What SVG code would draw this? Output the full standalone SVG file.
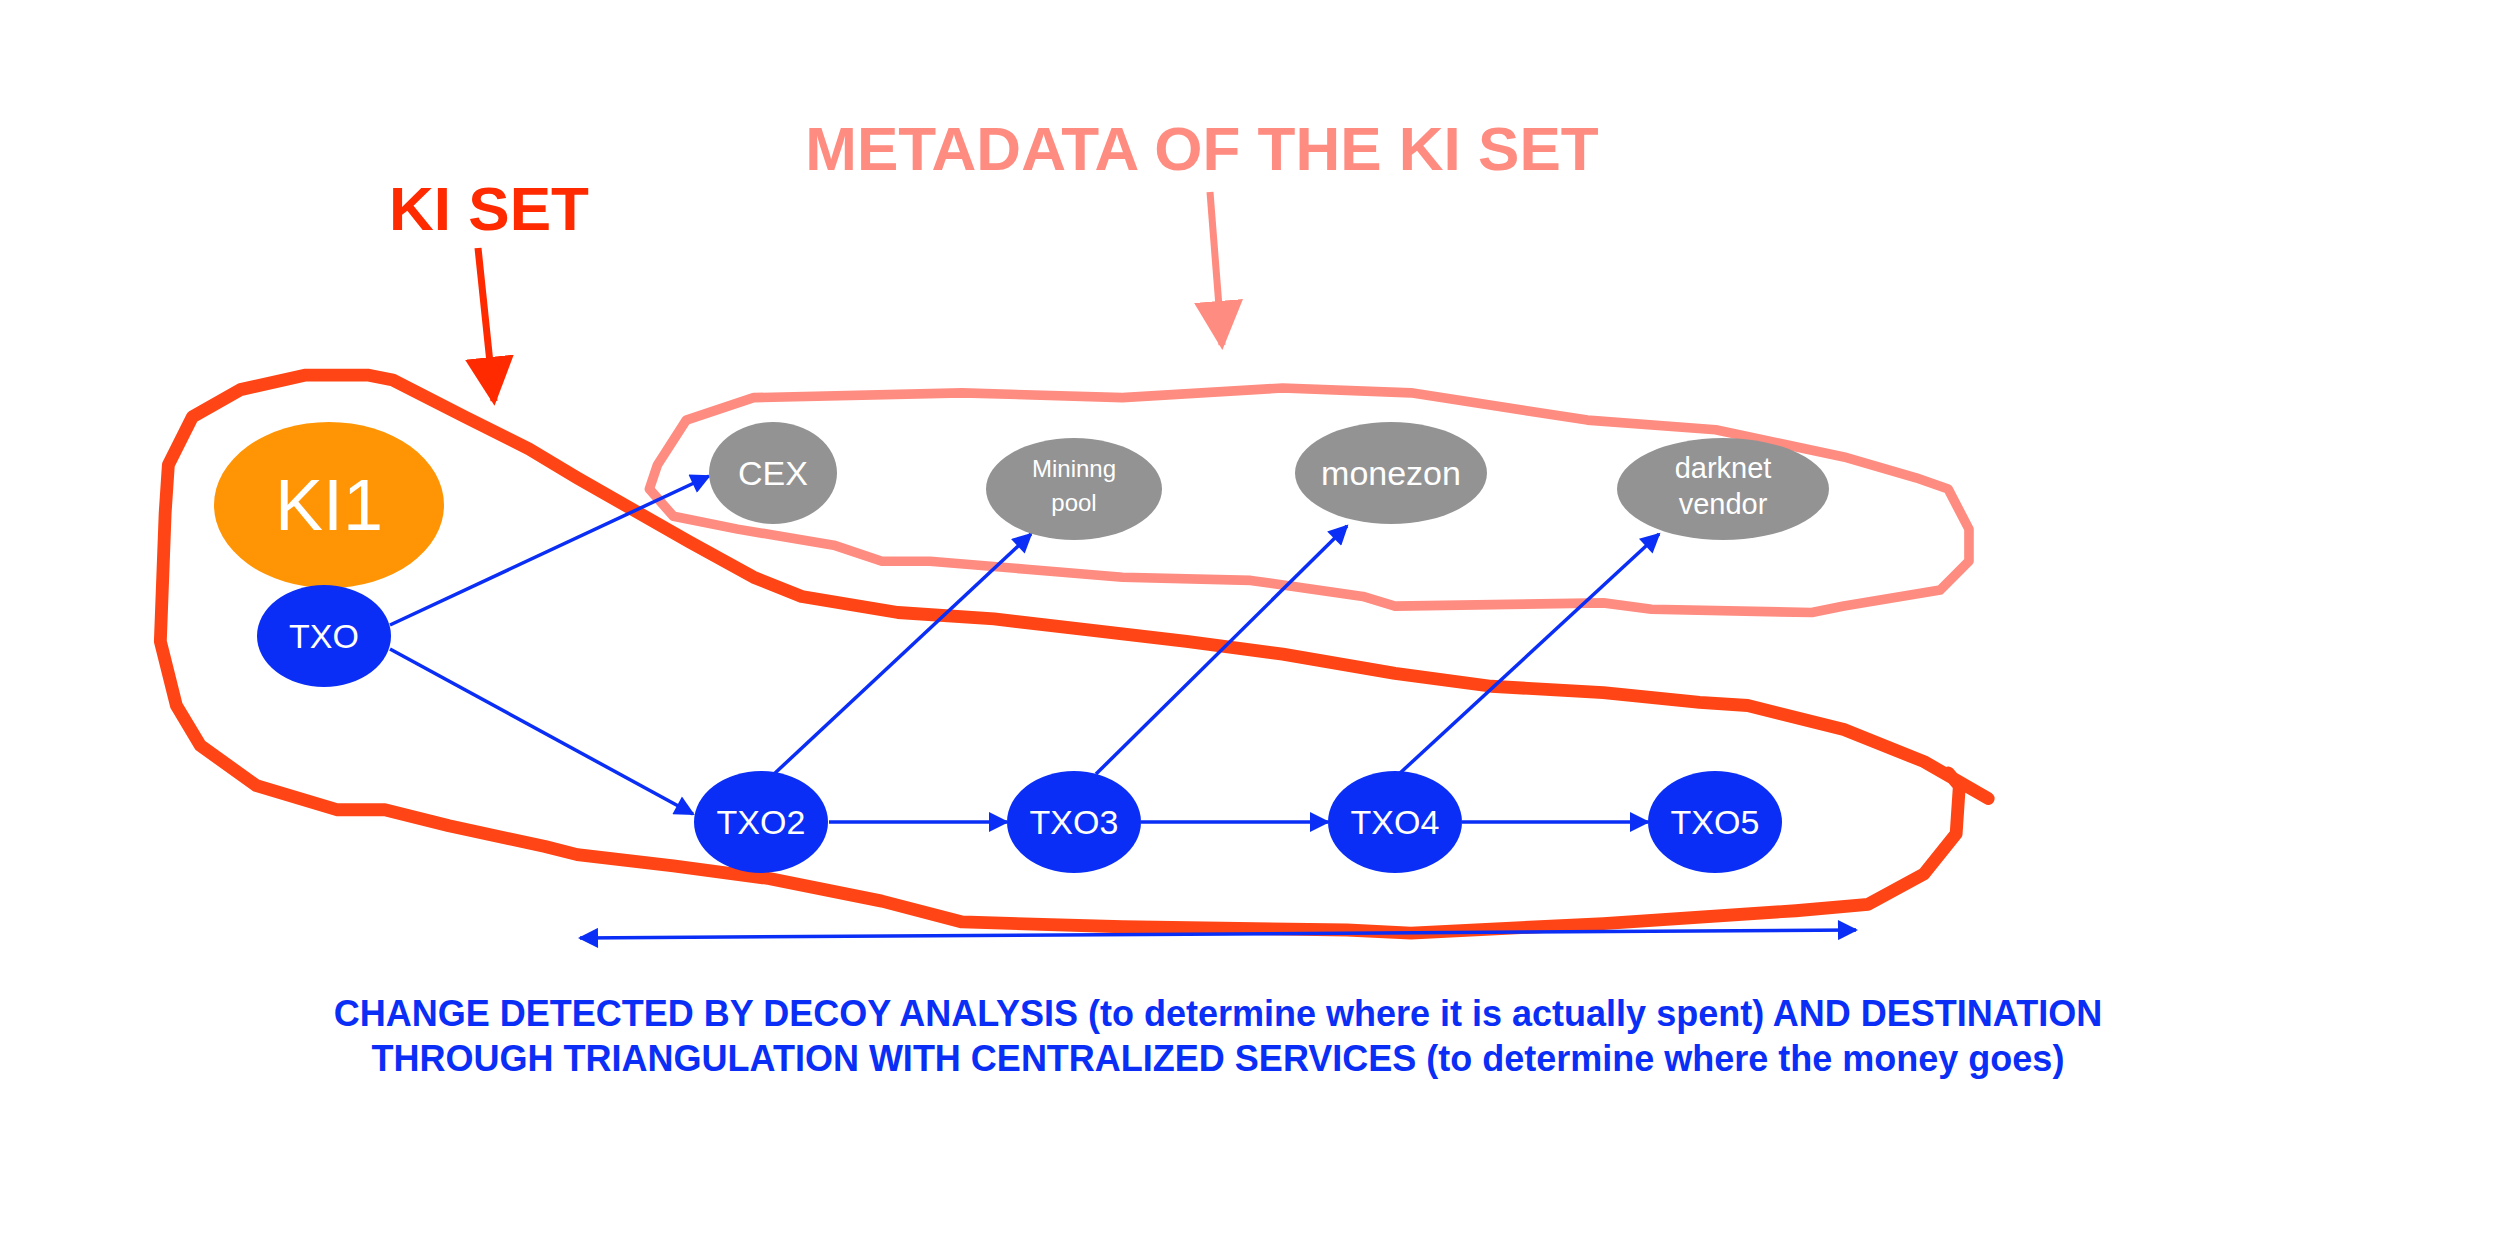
<svg xmlns="http://www.w3.org/2000/svg" width="2514" height="1254" viewBox="0 0 2514 1254">
<defs>
<style>
.t{font-family:"Liberation Sans",Arial,sans-serif;fill:#fff;text-anchor:middle}
.c{stroke:#0A2EF5;stroke-width:3.5;fill:none}
.blue{fill:#0A2EF5}.gray{fill:#939393}
.title{font-family:"Liberation Sans",Arial,sans-serif;font-weight:bold;text-anchor:middle}
</style>
<marker id="a" viewBox="0 0 10 10" refX="9" refY="5" markerWidth="22" markerHeight="20" markerUnits="userSpaceOnUse" orient="auto-start-reverse"><path d="M0,0L10,5L0,10z" fill="#0A2EF5"/></marker>
<marker id="ar" viewBox="0 0 10 10" refX="9" refY="5" markerWidth="7" markerHeight="7" orient="auto"><path d="M0,0L10,5L0,10z" fill="#FF2A00"/></marker>
<marker id="as" viewBox="0 0 10 10" refX="9" refY="5" markerWidth="7" markerHeight="7" orient="auto"><path d="M0,0L10,5L0,10z" fill="#FF8C80"/></marker>
</defs>
<rect width="2514" height="1254" fill="#fff"/>
<g id="loops" fill="none" stroke-linejoin="round" stroke-linecap="round" transform="scale(1.6034)">
<polyline stroke="#FF8C80" stroke-width="6" points="428,262 470,248 600,245 700,248 800,242 880,245 990,262 1070,268 1150,285 1195,298 1215,305 1228,330 1228,350 1210,368 1150,378 1130,382 1030,380 1000,376 870,378 850,372 780,362 700,360 640,355 580,350 550,350 520,340 460,330 420,322 405,305 410,290 428,262"/>
<polyline stroke="#FF4515" stroke-width="8" points="1240,498 1200,475 1150,455 1090,440 1060,438 1000,432 930,428 870,420 800,408 740,400 680,393 620,386 560,382 500,372 470,360 430,338 360,298 330,280 290,260 245,237 230,234 190,234 150,243 120,260 105,290 103,320 100,400 110,440 125,465 160,490 210,505 240,505 280,515 340,528 360,533 420,540 480,548 550,562 600,575 700,578 840,580 880,582 1000,576 1120,568 1165,564 1200,545 1220,520 1222,490 1215,482"/>
</g>
<g id="connectors">
<line class="c" x1="390" y1="625" x2="709" y2="476" marker-end="url(#a)"/>
<line class="c" x1="390" y1="649" x2="693" y2="814" marker-end="url(#a)"/>
<line class="c" x1="829" y1="822" x2="1007" y2="822" marker-end="url(#a)"/>
<line class="c" x1="1141" y1="822" x2="1328" y2="822" marker-end="url(#a)"/>
<line class="c" x1="1462" y1="822" x2="1648" y2="822" marker-end="url(#a)"/>
<line class="c" x1="774" y1="774" x2="1031" y2="534" marker-end="url(#a)"/>
<line class="c" x1="1096" y1="774" x2="1347" y2="526" marker-end="url(#a)"/>
<line class="c" x1="1399" y1="774" x2="1659" y2="534" marker-end="url(#a)"/>
<line class="c" x1="580" y1="938" x2="1856" y2="930" marker-start="url(#a)" marker-end="url(#a)"/>
<line x1="478" y1="248" x2="494" y2="401" stroke="#FF2A00" stroke-width="7" marker-end="url(#ar)"/>
<line x1="1210" y1="192" x2="1222" y2="345" stroke="#FF8C80" stroke-width="7" marker-end="url(#as)"/>
</g>
<g id="KI1"><ellipse cx="329" cy="505" rx="115" ry="83" fill="#FF9505"/><text class="t" x="329" y="530" font-size="72">KI1</text></g>
<g id="TXO"><ellipse class="blue" cx="324" cy="636" rx="67" ry="51"/><text class="t" x="324" y="648" font-size="34">TXO</text></g>
<g id="CEX"><ellipse class="gray" cx="773" cy="473" rx="64" ry="51"/><text class="t" x="773" y="485" font-size="34">CEX</text></g>
<g id="pool"><ellipse class="gray" cx="1074" cy="489" rx="88" ry="51"/><text class="t" x="1074" y="477" font-size="24">Mininng</text><text class="t" x="1074" y="511" font-size="24">pool</text></g>
<g id="monezon"><ellipse class="gray" cx="1391" cy="473" rx="96" ry="51"/><text class="t" x="1391" y="485" font-size="34">monezon</text></g>
<g id="darknet"><ellipse class="gray" cx="1723" cy="489" rx="106" ry="51"/><text class="t" x="1723" y="478" font-size="29">darknet</text><text class="t" x="1723" y="514" font-size="29">vendor</text></g>
<g id="TXO2"><ellipse class="blue" cx="761" cy="822" rx="67" ry="51"/><text class="t" x="761" y="834" font-size="34">TXO2</text></g>
<g id="TXO3"><ellipse class="blue" cx="1074" cy="822" rx="67" ry="51"/><text class="t" x="1074" y="834" font-size="34">TXO3</text></g>
<g id="TXO4"><ellipse class="blue" cx="1395" cy="822" rx="67" ry="51"/><text class="t" x="1395" y="834" font-size="34">TXO4</text></g>
<g id="TXO5"><ellipse class="blue" cx="1715" cy="822" rx="67" ry="51"/><text class="t" x="1715" y="834" font-size="34">TXO5</text></g>
<text class="title" x="489" y="230" font-size="62" fill="#FF2A00">KI SET</text>
<text class="title" x="1202" y="170" font-size="62" fill="#FF8C80">METADATA OF THE KI SET</text>
<text class="title" x="1218" y="1026" font-size="36" fill="#0A2EF5">CHANGE DETECTED BY DECOY ANALYSIS (to determine where it is actually spent) AND DESTINATION</text>
<text class="title" x="1218" y="1071" font-size="36" fill="#0A2EF5">THROUGH TRIANGULATION WITH CENTRALIZED SERVICES (to determine where the money goes)</text>
</svg>
